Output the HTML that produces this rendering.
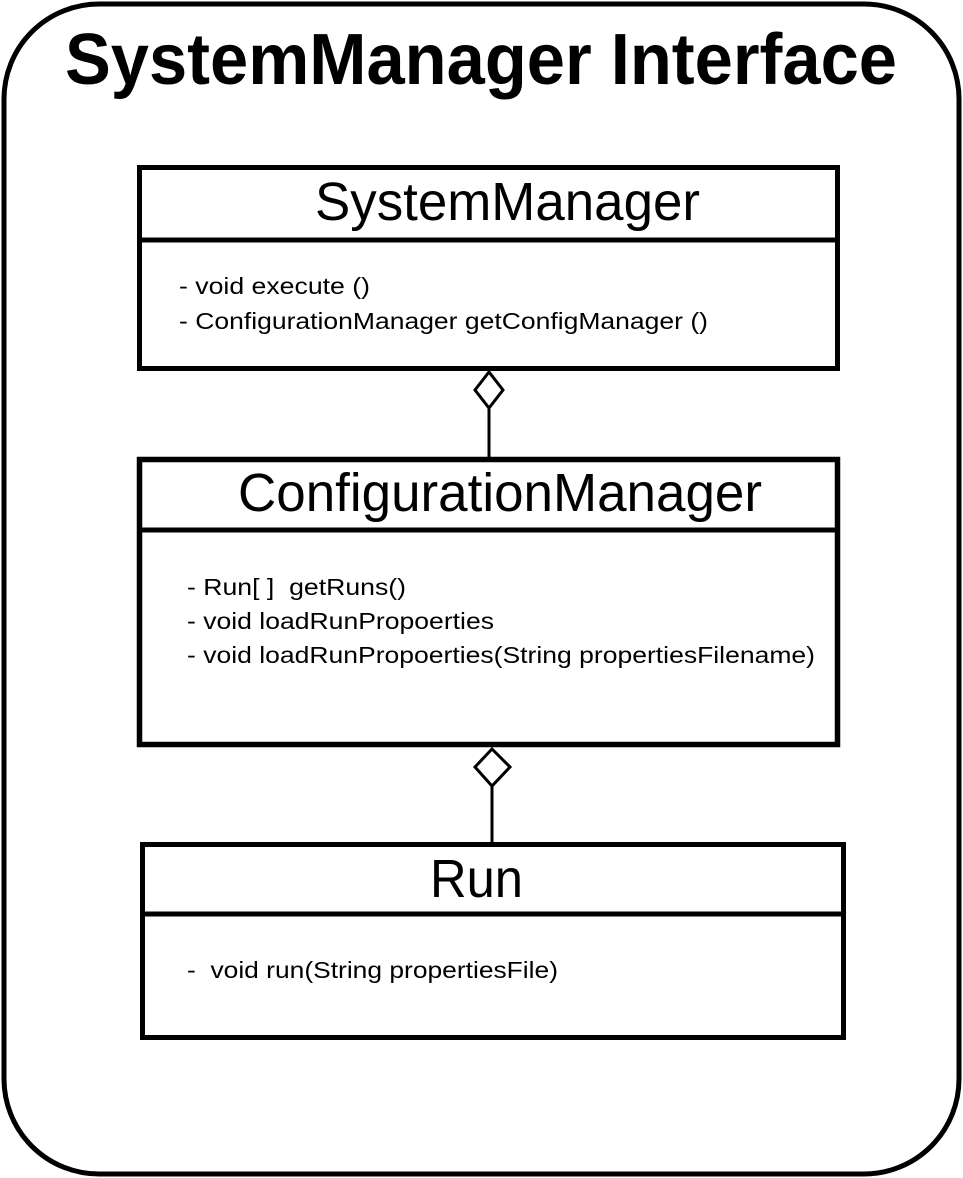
<!DOCTYPE html>
<html><head><meta charset="utf-8"><style>
html,body{margin:0;padding:0;background:#fff;}
svg{display:block;}
text{font-family:"Liberation Sans",Arial,sans-serif;fill:#000;white-space:pre;}
</style></head><body>
<svg width="963" height="1178" viewBox="0 0 963 1178" xmlns="http://www.w3.org/2000/svg">
<rect x="4" y="4" width="955" height="1170" rx="95" ry="95" fill="#fff" stroke="#000" stroke-width="5"/>
<text x="65" y="84" font-size="72" font-weight="bold" textLength="832" lengthAdjust="spacingAndGlyphs">SystemManager Interface</text>

<!-- Box 1 -->
<rect x="139.5" y="167.5" width="698" height="201" fill="#fff" stroke="#000" stroke-width="5"/>
<line x1="137" y1="240" x2="840" y2="240" stroke="#000" stroke-width="5"/>
<text x="315" y="220" font-size="54" textLength="385" lengthAdjust="spacingAndGlyphs">SystemManager</text>
<text x="179" y="294" font-size="23" textLength="191" lengthAdjust="spacingAndGlyphs">- void execute ()</text>
<text x="179" y="329" font-size="23" textLength="529" lengthAdjust="spacingAndGlyphs">- ConfigurationManager getConfigManager ()</text>

<!-- Connector 1 -->
<polygon points="489,372 503,390 489,408 475,390" fill="#fff" stroke="#000" stroke-width="3"/>
<line x1="489" y1="408" x2="489" y2="458" stroke="#000" stroke-width="3"/>

<!-- Box 2 -->
<rect x="139.5" y="459.5" width="698" height="285" fill="#fff" stroke="#000" stroke-width="5.5"/>
<line x1="137" y1="530" x2="840" y2="530" stroke="#000" stroke-width="5"/>
<text x="238" y="511" font-size="54" textLength="524" lengthAdjust="spacingAndGlyphs">ConfigurationManager</text>
<text x="187" y="595" font-size="23" textLength="219" lengthAdjust="spacingAndGlyphs">- Run[ ]&#160; getRuns()</text>
<text x="187" y="629" font-size="23" textLength="307" lengthAdjust="spacingAndGlyphs">- void loadRunPropoerties</text>
<text x="187" y="663" font-size="23" textLength="628" lengthAdjust="spacingAndGlyphs">- void loadRunPropoerties(String propertiesFilename)</text>

<!-- Connector 2 -->
<polygon points="492,749 510,767 492,786 475,767" fill="#fff" stroke="#000" stroke-width="3"/>
<line x1="492" y1="786" x2="492" y2="843" stroke="#000" stroke-width="3"/>

<!-- Box 3 -->
<rect x="142.5" y="844.5" width="701" height="193" fill="#fff" stroke="#000" stroke-width="5"/>
<line x1="140" y1="914" x2="846" y2="914" stroke="#000" stroke-width="5"/>
<text x="430" y="897" font-size="54" textLength="93" lengthAdjust="spacingAndGlyphs">Run</text>
<text x="187" y="978" font-size="23" textLength="371" lengthAdjust="spacingAndGlyphs">-&#160; void run(String propertiesFile)</text>
</svg>
</body></html>
